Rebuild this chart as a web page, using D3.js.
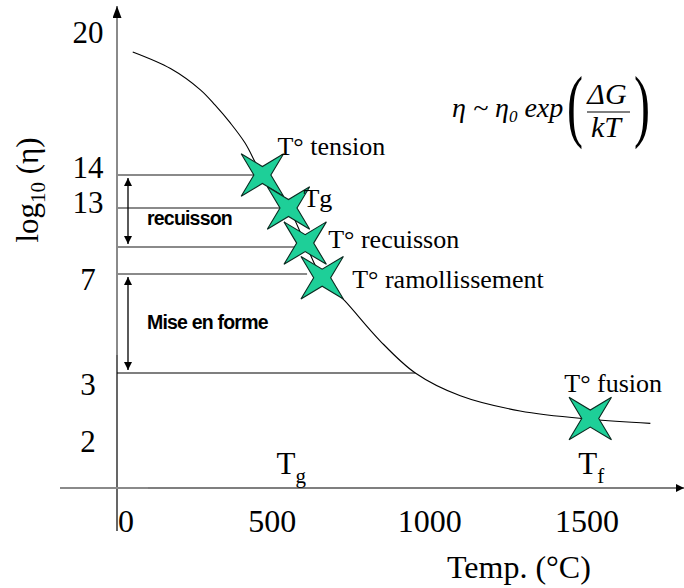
<!DOCTYPE html>
<html>
<head>
<meta charset="utf-8">
<script src="https://cdn.jsdelivr.net/npm/d3@7"></script>
<style>
  body { margin: 0; background: #fff; }
  svg { display: block; }
  .serif { font-family: "Liberation Serif", "Times New Roman", serif; fill: #000; }
  .sans { font-family: "Liberation Sans", Arial, sans-serif; font-weight: bold; fill: #000; }
</style>
</head>
<body>
<div id="chart"></div>
<script>
// Tick labels
const tempTicks = [0, 500, 1000, 1500];
const etaTicks = [20, 14, 13, 7, 3, 2];

// Reference levels (log10 eta) and where each line meets the curve (degC)
const levelValues = [14, 13, 11, 7, 3];
const levelEndTemp = [440, 520, 572, 604, 948];

// Viscosity curve
const curveTemp = [50, 170, 265, 312, 360, 407, 462, 545, 598, 652, 725, 836, 948, 1091, 1281, 1504, 1695];
const curveEta = [19.2, 18.5, 17.6, 16.95, 16.2, 15.35, 14, 13, 11.2, 6.85, 5.9, 4.3, 3.0, 2.67, 2.45, 2.33, 2.27];

// Characteristic points
const pointNames = ["T° tension", "Tg", "T° recuisson", "T° ramollissement", "T° fusion"];
const pointTemp = [462, 545, 598, 652, 1504];
const pointEta = [14, 13, 11.2, 6.85, 2.34];

// Ranges marked with double arrows
const rangeNames = ["recuisson", "Mise en forme"];
const rangeTop = [14, 7];
const rangeBottom = [11, 3];

const width = 684, height = 588;
const svg = d3.select("#chart").append("svg")
    .attr("width", width)
    .attr("height", height);

// x is linear, y is schematic (piecewise)
const x = d3.scaleLinear().domain([0, 1500]).range([117, 589]);
const y = d3.scaleLinear()
    .domain([2, 3, 7, 11, 13, 14, 20])
    .range([442, 373, 274, 247, 208, 175, 33]);
const axisY = 488;

// arrow heads
const defs = svg.append("defs");
defs.append("marker")
    .attr("id", "head")
    .attr("viewBox", "0 0 10 10")
    .attr("refX", 10).attr("refY", 5)
    .attr("markerWidth", 8).attr("markerHeight", 8)
    .attr("markerUnits", "userSpaceOnUse")
    .attr("orient", "auto-start-reverse")
    .append("path")
    .attr("d", "M0,0 L10,5 L0,10 Z")
    .attr("fill", "#000");
defs.append("marker")
    .attr("id", "head2")
    .attr("viewBox", "0 0 10 10")
    .attr("refX", 10).attr("refY", 5)
    .attr("markerWidth", 12).attr("markerHeight", 9)
    .attr("markerUnits", "userSpaceOnUse")
    .attr("orient", "auto-start-reverse")
    .attr("preserveAspectRatio", "none")
    .append("path")
    .attr("d", "M0,0 L10,5 L0,10 Z")
    .attr("fill", "#000");

// horizontal level lines
svg.selectAll(".level")
    .data(levelValues)
    .enter().append("line")
    .attr("class", "level")
    .attr("x1", x(0))
    .attr("x2", (d, i) => x(levelEndTemp[i]))
    .attr("y1", d => y(d))
    .attr("y2", d => y(d))
    .attr("stroke", d => d === 3 ? "#000" : "#8a8a8a")
    .attr("stroke-width", d => d === 3 ? 1.2 : 2);

// axes
svg.append("line")
    .attr("x1", x(0)).attr("x2", x(0))
    .attr("y1", 355).attr("y2", 6)
    .attr("stroke", "#8a8a8a").attr("stroke-width", 2)
    .attr("marker-end", "url(#head2)");
svg.append("line")
    .attr("x1", x(0)).attr("x2", x(0))
    .attr("y1", 355).attr("y2", 531)
    .attr("stroke", "#000").attr("stroke-width", 1.2);
svg.append("line")
    .attr("x1", 60).attr("x2", 148)
    .attr("y1", axisY).attr("y2", axisY)
    .attr("stroke", "#8a8a8a").attr("stroke-width", 2);
svg.append("line")
    .attr("x1", 148).attr("x2", width)
    .attr("y1", axisY).attr("y2", axisY)
    .attr("stroke", "#000").attr("stroke-width", 1.2)
    .attr("marker-end", "url(#head)");

// y tick labels
const yNudge = {20: 0, 14: -7, 13: -5, 7: 6, 3: 12, 2: 0};
svg.selectAll(".ytick")
    .data(etaTicks)
    .enter().append("text")
    .attr("class", "serif ytick")
    .attr("x", 88)
    .attr("y", d => y(d) + yNudge[d] + 10)
    .attr("text-anchor", "middle")
    .attr("font-size", 31)
    .text(d => d);

// x tick labels
svg.selectAll(".xtick")
    .data(tempTicks)
    .enter().append("text")
    .attr("class", "serif xtick")
    .attr("x", d => d === 0 ? x(d) + 1 : x(d) - 2)
    .attr("y", 532)
    .attr("text-anchor", d => d === 0 ? "start" : "middle")
    .attr("font-size", 32)
    .text(d => d);

// axis titles
svg.append("text")
    .attr("class", "serif")
    .attr("x", 447).attr("y", 578)
    .attr("font-size", 32)
    .text("Temp. (°C)");

const yTitle = svg.append("text")
    .attr("class", "serif")
    .attr("transform", "translate(38,190) rotate(-90)")
    .attr("text-anchor", "middle")
    .attr("font-size", 31);
yTitle.append("tspan").text("log");
yTitle.append("tspan").attr("font-size", 21).attr("dy", 7).text("10");
yTitle.append("tspan").attr("dy", -7).text(" (η)");

// Tg / Tf labels on the temperature axis
[["T", "g", 545], ["T", "f", 1504]].forEach(([a, b, t]) => {
    const tx = svg.append("text")
        .attr("class", "serif")
        .attr("x", x(t) - 12).attr("y", 474)
        .attr("font-size", 31);
    tx.append("tspan").text(a);
    tx.append("tspan").attr("font-size", 21).attr("dy", 9).text(b);
});

// range arrows
svg.selectAll(".range")
    .data(rangeNames)
    .enter().append("line")
    .attr("class", "range")
    .attr("x1", 128).attr("x2", 128)
    .attr("y1", (d, i) => y(rangeTop[i]) + 3)
    .attr("y2", (d, i) => y(rangeBottom[i]) - 3)
    .attr("stroke", "#000").attr("stroke-width", 1.3)
    .attr("marker-start", "url(#head)")
    .attr("marker-end", "url(#head)");

const rangeDy = [14, 5];
svg.selectAll(".rangeLabel")
    .data(rangeNames)
    .enter().append("text")
    .attr("class", "sans rangeLabel")
    .attr("x", 147)
    .attr("y", (d, i) => (y(rangeTop[i]) + y(rangeBottom[i])) / 2 + rangeDy[i])
    .attr("font-size", 19.5)
    .attr("letter-spacing", -0.8)
    .text(d => d);

// curve
const line = d3.line()
    .x((d, i) => x(curveTemp[i]))
    .y(d => y(d))
    .curve(d3.curveCatmullRom);
svg.append("path")
    .datum(curveEta)
    .attr("d", line)
    .attr("fill", "none")
    .attr("stroke", "#000")
    .attr("stroke-width", 1.1);

// four-pointed stars
const starPts = [];
for (let k = 0; k < 8; k++) {
    const a = Math.PI / 4 + k * Math.PI / 4;
    const r = k % 2 === 0 ? 30 : 8.5;
    starPts.push([a, r]);
}
const star = d3.lineRadial().angle(d => d[0]).radius(d => d[1]).curve(d3.curveLinearClosed);

svg.selectAll(".star")
    .data(pointNames)
    .enter().append("path")
    .attr("class", "star")
    .attr("transform", (d, i) => `translate(${x(pointTemp[i])},${y(pointEta[i])})`)
    .attr("d", star(starPts))
    .attr("fill", "#1ecf98")
    .attr("stroke", "#0b2a20")
    .attr("stroke-width", 1.1);

const labelOffset = [[15, -20], [15, -1], [23, 5], [30, 10], [-26, -27]];
svg.selectAll(".pname")
    .data(pointNames)
    .enter().append("text")
    .attr("class", "serif pname")
    .attr("x", (d, i) => x(pointTemp[i]) + labelOffset[i][0])
    .attr("y", (d, i) => y(pointEta[i]) + labelOffset[i][1])
    .attr("font-size", 26)
    .text(d => d);

// formula
const f = svg.append("g").attr("class", "serif").attr("font-style", "italic");
const main = f.append("text").attr("x", 452).attr("y", 117).attr("font-size", 28);
main.append("tspan").text("η ~ η");
main.append("tspan").attr("font-size", 17).attr("dy", 5).text("0");
main.append("tspan").attr("dy", -5).text(" exp");
f.append("text").attr("x", 567).attr("y", 132).attr("font-size", 80)
    .attr("font-style", "normal").attr("transform", "translate(567,0) scale(0.6,1) translate(-567,0)").text("(");
f.append("text").attr("x", 607).attr("y", 104).attr("font-size", 30)
    .attr("text-anchor", "middle").text("ΔG");
f.append("line").attr("x1", 587).attr("x2", 630).attr("y1", 112).attr("y2", 112)
    .attr("stroke", "#000").attr("stroke-width", 1.2);
f.append("text").attr("x", 606).attr("y", 137).attr("font-size", 30)
    .attr("text-anchor", "middle").text("kT");
f.append("text").attr("x", 634).attr("y", 132).attr("font-size", 80)
    .attr("font-style", "normal").attr("transform", "translate(634,0) scale(0.6,1) translate(-634,0)").text(")");
</script>
</body>
</html>
